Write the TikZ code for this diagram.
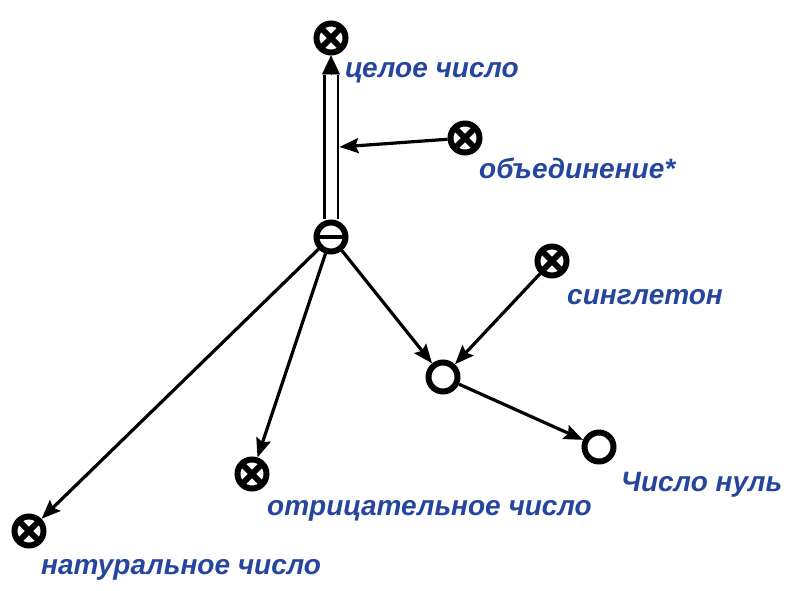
\documentclass[tikz,border=0pt]{standalone}
\usepackage{fontspec}
\setmainfont{Liberation Sans}
\usetikzlibrary{arrows.meta}
\definecolor{lblue}{RGB}{38,70,158}
\begin{document}
\begin{tikzpicture}[x=1pt,y=-1pt,
  vtx/.style={circle, draw=black, line width=6pt, minimum size=29pt, inner sep=0pt, fill=white},
  xvtx/.style={vtx, path picture={
      \draw[line width=6pt]
        (path picture bounding box.north west) -- (path picture bounding box.south east)
        (path picture bounding box.north east) -- (path picture bounding box.south west);}},
  mvtx/.style={vtx, path picture={
      \draw[line width=3.5pt]
        (path picture bounding box.west) -- (path picture bounding box.east);}},
  lbl/.style={anchor=base west, inner sep=0pt, text=lblue,
      font=\fontsize{28}{32}\selectfont\bfseries\itshape},
  arr/.style={line width=3.2pt, -{Stealth[length=19pt,width=15pt,inset=3pt]}},
  dbl/.style={double, double distance=11pt, line width=2.8pt},
  tip/.style={line width=0.1pt, -{Triangle[length=19pt,width=18pt]}},
]
\useasboundingbox (0,0) rectangle (788,591);

% vertices
\node[xvtx] (int)  at (331,38)  {};
\node[mvtx] (min)  at (331,237) {};
\node[xvtx] (uni)  at (465,138) {};
\node[xvtx] (sing) at (552,261) {};
\node[vtx]  (mid)  at (443,377) {};
\node[vtx]  (zero) at (599,447) {};
\node[xvtx] (neg)  at (252,474) {};
\node[xvtx] (nat)  at (29,531)  {};

% labels
\node[lbl] (lint)  at (345,78)  {целое число};
\node[lbl] (luni)  at (479,179) {объединение*};
\node[lbl] (lsing) at (567,304) {синглетон};
\node[lbl] (lzero) at (621,491) {Число нуль};
\node[lbl] (lneg)  at (267,515) {отрицательное число};
\node[lbl] (lnat)  at (41,574)  {натуральное число};

% double edge with its head
\coordinate (dtop) at (331,75);
\coordinate (join) at (339.5,147);
\draw[dbl] (min) -- (dtop);
\draw[tip] (dtop) -- (int);

% plain edges
\draw[arr] (uni) -- (join);
\draw[arr] (min) -- (nat);
\draw[arr] (min) -- (neg);
\draw[arr] (min) -- (mid);
\draw[arr] (sing) -- (mid);
\draw[arr] (mid) -- (zero);
\end{tikzpicture}
\end{document}
